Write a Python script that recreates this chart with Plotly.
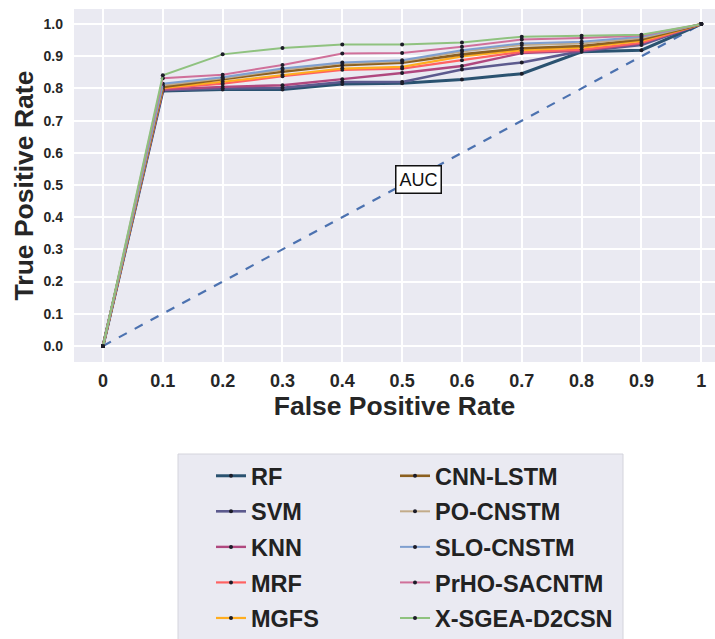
import plotly.graph_objects as go

# False positive rate grid shared by every curve
fpr = [0.0, 0.1, 0.2, 0.3, 0.4, 0.5, 0.6, 0.7, 0.8, 0.9, 1.0]

models = ["RF", "SVM", "KNN", "MRF", "MGFS",
          "CNN-LSTM", "PO-CNSTM", "SLO-CNSTM", "PrHO-SACNTM", "X-SGEA-D2CSN"]

tpr_rf    = [0, 0.792, 0.797, 0.797, 0.814, 0.816, 0.828, 0.846, 0.914, 0.919, 1]
tpr_svm   = [0, 0.795, 0.800, 0.802, 0.820, 0.820, 0.859, 0.881, 0.916, 0.935, 1]
tpr_knn   = [0, 0.797, 0.805, 0.810, 0.829, 0.848, 0.870, 0.910, 0.917, 0.940, 1]
tpr_mrf   = [0, 0.800, 0.815, 0.838, 0.858, 0.862, 0.888, 0.914, 0.921, 0.942, 1]
tpr_mgfs  = [0, 0.802, 0.821, 0.842, 0.862, 0.867, 0.900, 0.919, 0.927, 0.948, 1]
tpr_cnn   = [0, 0.805, 0.829, 0.852, 0.872, 0.880, 0.906, 0.925, 0.932, 0.952, 1]
tpr_po    = [0, 0.810, 0.832, 0.858, 0.878, 0.885, 0.915, 0.935, 0.940, 0.957, 1]
tpr_slo   = [0, 0.815, 0.835, 0.862, 0.881, 0.888, 0.919, 0.940, 0.945, 0.961, 1]
tpr_prho  = [0, 0.832, 0.843, 0.873, 0.909, 0.910, 0.930, 0.952, 0.957, 0.965, 1]
tpr_xsgea = [0, 0.841, 0.906, 0.926, 0.937, 0.937, 0.943, 0.961, 0.964, 0.967, 1]

tpr_all = [tpr_rf, tpr_svm, tpr_knn, tpr_mrf, tpr_mgfs,
           tpr_cnn, tpr_po, tpr_slo, tpr_prho, tpr_xsgea]

colors = ["#2a5270", "#5c5a8e", "#b0487f", "#ff6262", "#ffad1f",
          "#8c6020", "#c2ab89", "#7f9fcf", "#d0709a", "#8fc27f"]
widths = [3, 2.6, 2.4, 2.2, 2.2, 2.6, 2.0, 2.0, 2.0, 2.0]

x_ticks = [0, 0.1, 0.2, 0.3, 0.4, 0.5, 0.6, 0.7, 0.8, 0.9, 1]
x_ticktext = ["0", "0.1", "0.2", "0.3", "0.4", "0.5", "0.6", "0.7", "0.8", "0.9", "1"]
y_ticks = [0.0, 0.1, 0.2, 0.3, 0.4, 0.5, 0.6, 0.7, 0.8, 0.9, 1.0]

chance_x = [0, 1]
chance_y = [0, 1]

FONT = "Arial, Liberation Sans, sans-serif"
W, H = 715, 639
ML, MR, MT, MB = 74, 0, 9, 277
plot_w = W - ML - MR
plot_h = H - MT - MB


def px_x(px):
    return (px - ML) / plot_w


def px_y(py):
    return (H - MB - py) / plot_h


fig = go.Figure()

# chance diagonal
fig.add_trace(go.Scatter(
    x=chance_x, y=chance_y, mode="lines",
    line=dict(color="#4c72b0", width=2.2, dash="dash"),
    showlegend=False, hoverinfo="skip",
))

for i, (name, tpr) in enumerate(zip(models, tpr_all)):
    fig.add_trace(go.Scatter(
        x=fpr, y=tpr, name=name, mode="lines+markers",
        line=dict(color=colors[i], width=widths[i]),
        marker=dict(color="#1c1c28", size=4),
        legend="legend" if i < 5 else "legend2",
        legendgroup=name,
    ))

fig.add_annotation(
    x=0.528, y=0.516, text="AUC", showarrow=False,
    font=dict(family=FONT, size=18, color="#111111"),
    bgcolor="white", bordercolor="#111111", borderwidth=1.5, borderpad=3,
)

# legend background panel
fig.add_shape(
    type="rect", xref="paper", yref="paper",
    x0=px_x(178), x1=px_x(623), y0=px_y(648), y1=px_y(454),
    fillcolor="#eaeaf2", line=dict(color="#d4d4dc", width=1), layer="below",
)

legend_common = dict(
    font=dict(family=FONT, size=23.5, color="#222222", weight="bold"),
    bgcolor="rgba(0,0,0,0)", borderwidth=0,
    yanchor="top", xanchor="left", orientation="v",
    tracegroupgap=2,
)

fig.update_layout(
    width=W, height=H,
    margin=dict(l=ML, r=MR, t=MT, b=MB, autoexpand=False),
    paper_bgcolor="white", plot_bgcolor="#eaeaf2",
    font=dict(family=FONT),
    legend=dict(x=px_x(211), y=px_y(454), **legend_common),
    legend2=dict(x=px_x(395), y=px_y(454), **legend_common),
    xaxis=dict(
        range=[-0.0485, 1.023], tickvals=x_ticks, ticktext=x_ticktext,
        showgrid=True, gridcolor="white", gridwidth=1.5, zeroline=False,
        showline=False, ticks="", ticklabelstandoff=6,
        tickfont=dict(family=FONT, size=18, color="#262626", weight="bold"),
        title=dict(text="False Positive Rate", standoff=2,
                   font=dict(family=FONT, size=26.5, color="#262626", weight="bold")),
    ),
    yaxis=dict(
        range=[-0.05, 1.047], tickvals=y_ticks, tickformat=".1f",
        showgrid=True, gridcolor="white", gridwidth=1.5, zeroline=False,
        showline=False, ticks="", ticklabelstandoff=10,
        tickfont=dict(family=FONT, size=14, color="#262626", weight="bold"),
        title=dict(text="True Positive Rate", standoff=2,
                   font=dict(family=FONT, size=26.5, color="#262626", weight="bold")),
    ),
)

fig.write_html("out.html")
